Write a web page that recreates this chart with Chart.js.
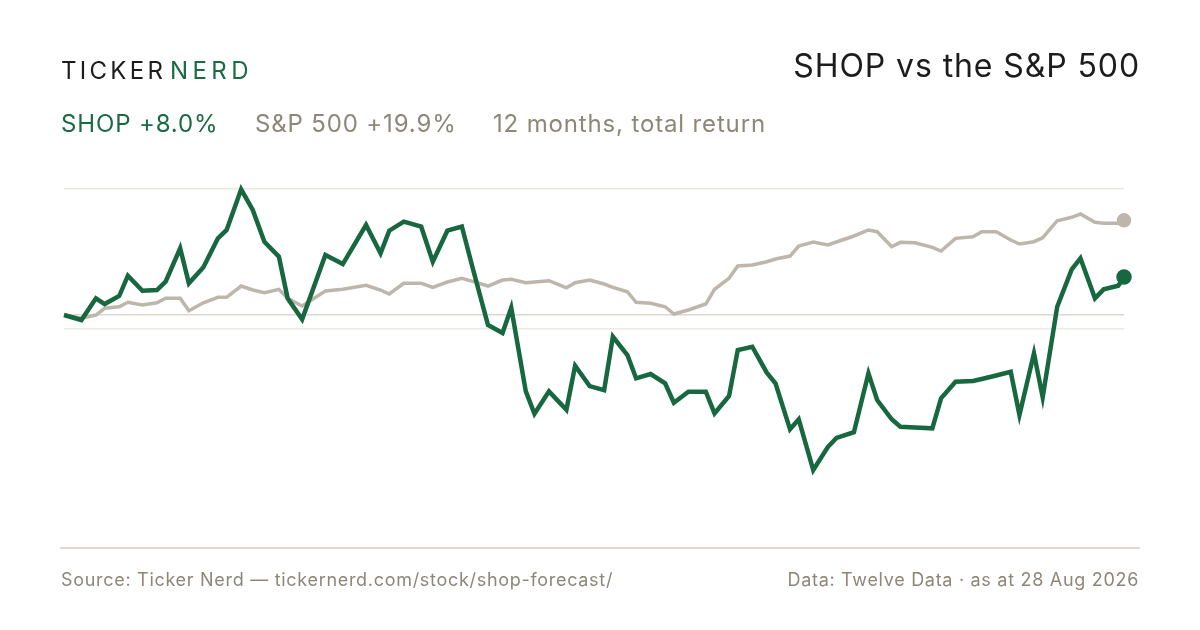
<!DOCTYPE html>
<html>
<head>
<meta charset="utf-8">
<script src="https://cdn.jsdelivr.net/npm/chart.js@4.4.1/dist/chart.umd.min.js"></script>
<style>
  html, body { margin:0; padding:0; background:#ffffff; }
  body { width:1200px; height:630px; position:relative; overflow:hidden; font-family: Inter, "Noto Sans", sans-serif; }
  #wrap { position:absolute; left:0; top:0; width:1200px; height:630px; }
  .t { position:absolute; white-space:nowrap; }
  .brand { top:56px; font-size:24px; letter-spacing:3.3px; color:#1c1c1c; }
  #title { right:60px; top:46px; font-size:32px; letter-spacing:0.9px; color:#1c1c1c; }
  .sub { top:109px; font-size:24px; letter-spacing:0.85px; color:#8d8778; }
  #rule { position:absolute; left:60px; top:547px; width:1080px; height:2px; background:#e0dbd2; }
  .foot { top:569px; font-size:18px; letter-spacing:0.7px; color:#8d8778; }
  .t.g { color:#1b6a43; }
</style>
</head>
<body>
<div id="wrap"><canvas id="c" width="1200" height="630"></canvas></div>
<div class="t brand" style="left:61px">TICKER</div>
<div class="t brand g" style="left:170px; letter-spacing:4.4px">NERD</div>
<div class="t" id="title">SHOP vs the S&amp;P 500</div>
<div class="t sub g" style="left:61px">SHOP +8.0%</div>
<div class="t sub" style="left:255px">S&amp;P 500 +19.9%</div>
<div class="t sub" style="left:493px">12 months, total return</div>
<div id="rule"></div>
<div class="t foot" style="left:61px">Source: Ticker Nerd — tickernerd.com/stock/shop-forecast/</div>
<div class="t foot" style="right:61px">Data: Twelve Data · as at 28 Aug 2026</div>
<script>
// Days since start of the 12-month window
const days = [0,6,11,14,19,22,27,32,35,40,43,48,53,56,61,65,69,74,77,82,90,96,104,109,112,117,123,127,132,137,141,146,151,154,159,162,167,173,176,181,186,189,194,197,202,207,210,215,221,224,229,232,237,242,245,250,253,258,263,266,272,277,280,285,288,293,299,302,307,313,316,321,326,329,334,337,342,347,350,355,358,363,365];
// Total return, % (SHOP)
const shopReturn = [0,-1.05,3.51,2.31,3.99,8.26,5.10,5.25,7.00,14.01,6.66,10.02,16.11,17.86,26.41,22.06,15.40,12.25,3.51,-0.90,12.61,10.71,18.91,12.96,17.71,19.60,18.55,11.20,17.71,18.59,9.24,-2.10,-3.78,1.53,-15.97,-20.74,-16.03,-19.89,-10.65,-14.92,-15.76,-4.56,-8.40,-13.30,-12.39,-14.35,-18.42,-16.11,-16.11,-20.65,-17.02,-7.35,-6.66,-12.12,-14.35,-24.01,-21.91,-32.56,-27.73,-25.80,-24.62,-12.25,-17.86,-21.91,-23.47,-23.63,-23.80,-17.50,-14.01,-13.87,-13.45,-12.71,-11.91,-21.01,-8.05,-17.29,1.74,9.60,11.91,3.51,5.40,6.16,8.0];
// Total return, % (S&P 500)
const spxReturn = [0,-0.69,0,1.41,1.74,2.67,2.10,2.58,3.51,3.51,0.90,2.58,3.72,3.72,6.09,5.25,4.68,5.40,3.51,1.89,5.04,5.40,6.24,5.25,4.41,6.66,6.66,5.82,6.93,7.71,7.00,6.09,7.35,7.50,6.79,6.93,7.21,5.71,6.79,7.35,6.51,5.82,4.89,2.67,2.46,1.74,0.21,1.05,2.31,5.40,7.71,10.29,10.50,11.20,11.76,12.39,14.50,15.34,14.71,15.34,16.60,17.86,17.50,14.35,15.27,15.19,14.22,13.45,16.11,16.45,17.50,17.50,15.76,14.92,15.40,16.24,19.81,20.53,21.22,19.47,19.26,19.26,19.9];
// Horizontal reference lines, %
const gridValues = [26.5, 0, -2.9];
const gridColors = ['#ebe7e1', '#ddd8cf', '#ede9e3'];

const toPts = arr => arr.map((v, i) => ({ x: days[i], y: v }));
const lastIdx = days.length - 1;

new Chart(document.getElementById('c'), {
  type: 'line',
  data: {
    datasets: [
      {
        label: 'SHOP',
        data: toPts(shopReturn),
        borderColor: '#17673f',
        backgroundColor: '#17673f',
        borderWidth: 4.5,
        pointRadius: ctx => ctx.dataIndex === lastIdx ? 5.5 : 0,
        pointHoverRadius: 0,
        tension: 0,
        order: 1
      },
      {
        label: 'S&P 500',
        data: toPts(spxReturn),
        borderColor: '#bdb6ab',
        backgroundColor: '#bdb6ab',
        borderWidth: 3.5,
        pointRadius: ctx => ctx.dataIndex === lastIdx ? 5.5 : 0,
        pointHoverRadius: 0,
        tension: 0,
        order: 2
      }
    ]
  },
  options: {
    responsive: false,
    animation: false,
    devicePixelRatio: 1,
    clip: false,
    layout: { padding: { left: 64, right: 76, top: 172.2, bottom: 143.6 } },
    plugins: { legend: { display: false }, tooltip: { enabled: false } },
    scales: {
      x: { type: 'linear', min: 0, max: 365, display: false },
      y: {
        min: -36, max: 30,
        afterBuildTicks: axis => { axis.ticks = gridValues.map(v => ({ value: v })); },
        ticks: { display: false },
        border: { display: false },
        grid: {
          drawTicks: false,
          lineWidth: 1.5,
          color: ctx => gridColors[ctx.index] || '#ebe7e1'
        }
      }
    }
  }
});
</script>
</body>
</html>
